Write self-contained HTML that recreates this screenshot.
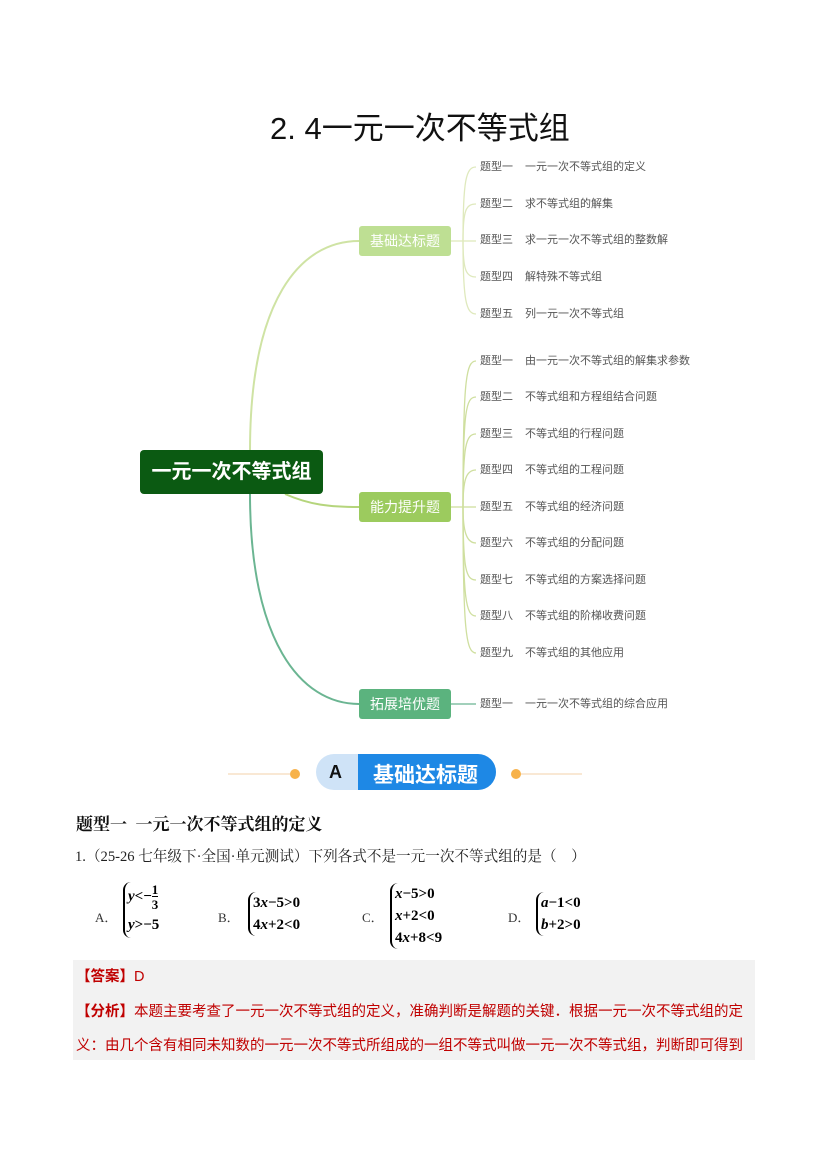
<!DOCTYPE html>
<html><head><meta charset="utf-8"><style>
body{margin:0;background:#fff;}
.pg{position:relative;width:827px;height:1169px;overflow:hidden;font-family:"Liberation Sans","Noto Sans CJK SC",sans-serif;}
.a{position:absolute;white-space:nowrap;}
.leaf{position:absolute;left:480px;font-size:11px;color:#555;line-height:14px;}
.leaf span{display:inline-block;width:45px;}
.br{position:absolute;left:359px;width:92px;height:30px;border-radius:3px;color:#fff;font-size:14px;text-align:center;line-height:30px;}
.sys{position:absolute;font-family:"Liberation Serif","Noto Serif CJK SC",serif;font-weight:bold;font-size:15px;line-height:22px;border-left:2px solid #000;border-radius:8px 0 0 8px;padding-left:3px;}
.lbl{position:absolute;font-family:"Liberation Serif","Noto Serif CJK SC",serif;font-size:13px;color:#333;}
</style></head><body><div class="pg">
<div class="a" style="left:270px;top:103px;font-size:31px;color:#111;">2.&nbsp;4一元一次不等式组</div>
<svg class="a" style="left:0;top:0" width="827" height="760">
<path d="M250 451 C250 300 300 241 359 241" fill="none" stroke="#cfe3a4" stroke-width="2"/>
<path d="M285 494 C310 505 330 507 359 507" fill="none" stroke="#b5d57c" stroke-width="2"/>
<path d="M250 494 C250 640 300 704 359 704" fill="none" stroke="#6bb592" stroke-width="2"/>
<g fill="none" stroke="#dfe9bd" stroke-width="1.3">
<path d="M451 241 H463"/>
<path d="M463 241 C463 180 466 167 476 167"/><path d="M463 241 C463 210 466 204 476 204"/><path d="M463 241 H476"/><path d="M463 241 C463 270 466 277 476 277"/><path d="M463 241 C463 300 466 314 476 314"/>
</g>
<g fill="none" stroke="#cfdf9f" stroke-width="1.3">
<path d="M451 507 H463"/>
<path d="M463 507 C463 380 466 361 476 361"/><path d="M463 507 C463 410 466 397 476 397"/><path d="M463 507 C463 445 466 434 476 434"/><path d="M463 507 C463 480 466 470 476 470"/><path d="M463 507 H476"/><path d="M463 507 C463 530 466 543 476 543"/><path d="M463 507 C463 570 466 580 476 580"/><path d="M463 507 C463 600 466 616 476 616"/><path d="M463 507 C463 630 466 653 476 653"/>
</g>
<path d="M451 704 H476" stroke="#6bb592" stroke-width="1.3"/>
</svg>
<div class="a" style="left:140px;top:450px;width:183px;height:44px;background:#0b5a12;border-radius:4px;color:#fff;font-weight:bold;font-size:20px;text-align:center;line-height:44px;">一元一次不等式组</div>
<div class="br" style="top:226px;background:#bedf93;">基础达标题</div>
<div class="br" style="top:492px;background:#9ccb5e;">能力提升题</div>
<div class="br" style="top:689px;background:#5bb37e;">拓展培优题</div>
<div class="leaf" style="top:160px"><span>题型一</span>一元一次不等式组的定义</div>
<div class="leaf" style="top:197px"><span>题型二</span>求不等式组的解集</div>
<div class="leaf" style="top:233px"><span>题型三</span>求一元一次不等式组的整数解</div>
<div class="leaf" style="top:270px"><span>题型四</span>解特殊不等式组</div>
<div class="leaf" style="top:307px"><span>题型五</span>列一元一次不等式组</div>
<div class="leaf" style="top:354px"><span>题型一</span>由一元一次不等式组的解集求参数</div>
<div class="leaf" style="top:390px"><span>题型二</span>不等式组和方程组结合问题</div>
<div class="leaf" style="top:427px"><span>题型三</span>不等式组的行程问题</div>
<div class="leaf" style="top:463px"><span>题型四</span>不等式组的工程问题</div>
<div class="leaf" style="top:500px"><span>题型五</span>不等式组的经济问题</div>
<div class="leaf" style="top:536px"><span>题型六</span>不等式组的分配问题</div>
<div class="leaf" style="top:573px"><span>题型七</span>不等式组的方案选择问题</div>
<div class="leaf" style="top:609px"><span>题型八</span>不等式组的阶梯收费问题</div>
<div class="leaf" style="top:646px"><span>题型九</span>不等式组的其他应用</div>
<div class="leaf" style="top:697px"><span>题型一</span>一元一次不等式组的综合应用</div>
<svg class="a" style="left:0;top:750px" width="827" height="45">
<line x1="228" y1="24" x2="290" y2="24" stroke="#f3d2a8" stroke-width="1"/>
<line x1="520" y1="24" x2="582" y2="24" stroke="#f3d2a8" stroke-width="1"/>
<circle cx="295" cy="24" r="5" fill="#f7b24a"/><circle cx="516" cy="24" r="5" fill="#f7b24a"/>
<rect x="316" y="4" width="180" height="36" rx="18" fill="#cfe3f7"/>
<path d="M358 4 H478 A18 18 0 0 1 478 40 H358 Z" fill="#1e88e5"/>
</svg>
<div class="a" style="left:329px;top:762px;font-size:18px;font-weight:bold;color:#111;">A</div>
<div class="a" style="left:373px;top:759px;font-size:21px;font-weight:bold;color:#fff;">基础达标题</div>
<div class="a" style="left:76px;top:810px;font-size:17px;font-weight:bold;color:#111;font-family:'Liberation Serif','Noto Serif CJK SC',serif;">题型一&nbsp;&nbsp;一元一次不等式组的定义</div>
<div class="a" style="left:75px;top:845px;font-size:14.6px;color:#222;font-family:'Liberation Serif','Noto Serif CJK SC',serif;">1.（25-26 七年级下·全国·单元测试）下列各式不是一元一次不等式组的是（&nbsp;&nbsp;&nbsp;&nbsp;）</div>
<div class="lbl" style="left:95px;top:907px">A．</div>
<div class="sys" style="left:123px;top:882px;line-height:26px;"><i>y</i>&lt;−<span style="display:inline-block;vertical-align:middle;text-align:center;font-size:13px;line-height:15px">1<br><span style="border-top:1px solid #000">3</span></span><br><i>y</i>&gt;−5</div>
<div class="lbl" style="left:218px;top:907px">B．</div>
<div class="sys" style="left:248px;top:892px;">3<i>x</i>−5&gt;0<br>4<i>x</i>+2&lt;0</div>
<div class="lbl" style="left:362px;top:907px">C．</div>
<div class="sys" style="left:390px;top:883px;line-height:22px;"><i>x</i>−5&gt;0<br><i>x</i>+2&lt;0<br>4<i>x</i>+8&lt;9</div>
<div class="lbl" style="left:508px;top:907px">D．</div>
<div class="sys" style="left:536px;top:892px;"><i>a</i>−1&lt;0<br><i>b</i>+2&gt;0</div>
<div class="a" style="left:73px;top:960px;width:682px;height:100px;background:#f2f2f2;"></div>
<div class="a" style="left:76px;top:965px;font-size:14.5px;color:#c00000;"><b>【答案】</b>D</div>
<div class="a" style="left:76px;top:1000px;font-size:14.5px;color:#c00000;"><b>【分析】</b>本题主要考查了一元一次不等式组的定义，准确判断是解题的关键．根据一元一次不等式组的定</div>
<div class="a" style="left:76px;top:1034px;font-size:14.5px;color:#c00000;">义：由几个含有相同未知数的一元一次不等式所组成的一组不等式叫做一元一次不等式组，判断即可得到</div>
</div></body></html>
